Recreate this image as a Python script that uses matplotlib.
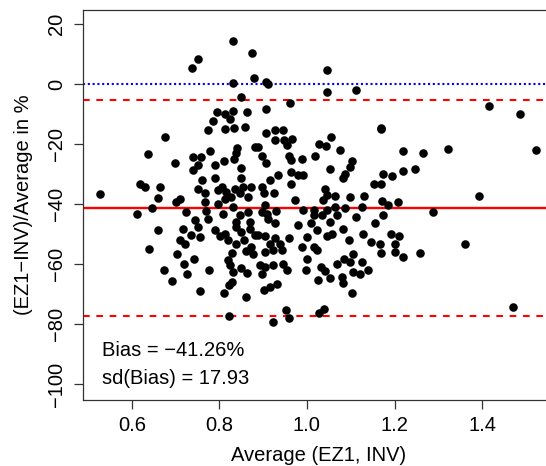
import matplotlib
matplotlib.use("Agg")
import matplotlib.pyplot as plt

avg = [0.528,
0.831,0.875,0.752,0.738,0.879,0.831,0.850,0.795,0.812,0.832,0.864,0.786,0.824,0.859,0.812,0.833,0.773,
1.045,0.906,0.912,1.046,1.113,0.961,0.907,1.169,1.415,1.487,
0.675,0.636,0.699,0.739,0.759,0.778,0.751,0.740,0.790,0.811,0.841,0.838,0.834,0.882,0.850,0.761,0.790,0.849,
0.618,0.630,0.665,0.751,0.805,0.797,0.816,0.835,0.854,0.873,0.847,0.767,0.660,0.710,0.702,0.812,0.827,0.866,
0.767,0.797,0.646,0.725,0.611,0.770,0.808,0.831,0.847,0.866,0.744,0.774,0.839,0.869,
0.907,0.927,0.946,0.926,0.948,0.967,0.955,1.169,1.055,1.028,1.044,1.076,0.888,1.018,0.898,0.906,0.960,0.963,
0.988,1.102,1.098,1.220,1.053,1.087,1.082,1.174,1.194,1.220,0.935,0.963,0.980,0.992,0.916,0.897,0.964,1.152,
1.169,0.903,0.924,1.041,1.045,1.064,1.037,0.973,1.098,1.131,1.171,1.184,1.207,0.904,0.897,0.908,0.929,0.992,
1.015,1.045,1.064,1.087,1.125,0.912,1.015,1.034,1.068,1.112,1.174,0.927,0.980,1.009,1.053,1.156,
1.266,1.321,1.523,1.247,1.392,1.287,
0.660,0.639,0.717,0.710,0.722,0.736,0.751,0.755,0.790,0.812,0.801,0.820,0.839,0.850,0.869,0.881,0.839,0.856,
0.873,0.862,0.877,0.829,0.703,0.742,0.820,0.824,0.719,0.727,0.674,0.776,0.831,0.850,0.864,0.692,0.829,0.821,
0.755,0.811,0.862,0.821,
1.083,0.889,0.904,0.927,0.939,0.958,0.916,0.904,0.923,0.942,0.988,1.000,1.022,1.015,1.022,1.045,1.057,1.095,
1.129,1.146,1.167,1.169,1.192,1.210,1.200,1.200,1.220,1.000,1.106,1.085,1.098,1.068,1.125,0.893,0.904,0.923,
0.946,0.954,0.897,0.997,1.032,1.041,1.053,1.026,1.081,1.083,1.106,1.121,1.140,0.931,0.916,0.903,1.102,0.952,
0.958,1.028,1.040,0.923,
1.258,1.362,1.471]

diff_pct = [-36.7,
14.4,10.4,8.3,5.3,1.9,0.2,-4.2,-9.2,-9.8,-8.9,-9.4,-12.2,-11.6,-14.2,-15.0,-14.6,-15.3,
4.7,0.6,-0.1,-2.6,-2.0,-6.2,-8.4,-14.6,-7.4,-10.0,
-17.6,-23.2,-26.3,-24.4,-24.4,-22.3,-26.8,-28.7,-27.0,-25.7,-21.4,-23.1,-25.1,-21.0,-27.8,-31.8,-31.2,-31.1,
-33.1,-34.4,-34.2,-34.8,-34.2,-35.3,-35.9,-34.8,-34.2,-34.2,-36.4,-36.4,-37.9,-38.1,-39.4,-38.1,-37.6,-37.6,
-39.2,-39.8,-41.1,-42.6,-43.4,-42.3,-43.1,-40.9,-43.7,-42.6,-45.3,-44.8,-45.9,-45.9,
-16.4,-15.3,-15.3,-18.7,-18.7,-18.3,-20.3,-14.8,-17.6,-20.1,-20.6,-22.0,-20.9,-23.9,-23.9,-26.2,-24.0,-25.3,
-25.1,-25.7,-27.6,-22.3,-28.4,-29.8,-31.4,-30.0,-30.6,-29.0,-30.1,-29.2,-30.3,-30.1,-32.0,-34.2,-33.4,-33.4,
-33.4,-36.4,-36.2,-34.8,-37.0,-37.2,-38.7,-38.7,-37.6,-37.2,-39.0,-40.3,-39.2,-40.3,-42.6,-43.1,-42.3,-42.0,
-42.0,-42.0,-40.9,-41.2,-40.9,-44.8,-43.7,-43.7,-43.7,-44.2,-43.7,-46.2,-46.8,-46.1,-45.9,-46.4,
-23.0,-21.7,-21.9,-28.2,-37.4,-42.7,
-48.7,-54.8,-48.3,-51.8,-53.3,-50.3,-47.6,-50.9,-48.7,-49.8,-50.6,-51.8,-47.6,-49.2,-48.1,-50.3,-53.1,-52.0,
-54.2,-55.6,-56.7,-56.2,-56.7,-58.2,-58.7,-60.3,-60.0,-63.1,-62.0,-62.0,-62.6,-61.1,-62.9,-65.6,-65.9,-67.0,
-68.9,-69.4,-70.9,-77.2,
-48.4,-50.3,-50.7,-51.4,-53.1,-51.1,-53.3,-55.9,-55.3,-55.1,-54.2,-50.9,-48.7,-54.2,-55.3,-50.7,-49.8,-52.0,
-50.0,-52.6,-53.1,-56.2,-50.0,-50.7,-53.1,-55.9,-57.6,-58.1,-56.4,-58.1,-59.2,-59.8,-59.2,-60.3,-60.9,-60.3,
-59.8,-62.0,-63.3,-61.8,-60.9,-62.2,-64.4,-65.3,-64.2,-66.2,-62.6,-63.1,-61.8,-66.7,-67.6,-68.7,-69.6,-75.3,
-77.8,-76.2,-74.8,-79.2,
-56.2,-53.1,-74.2]

bias = -41.26
sd_bias = 17.93
x_label = "Average (EZ1, INV)"
y_label = "(EZ1\u2212INV)/Average in %"
x_ticks = [0.6, 0.8, 1.0, 1.2, 1.4]
y_ticks = [20, 0, -20, -40, -60, -80, -100]

plt.rcParams['font.family'] = ['Liberation Sans', 'DejaVu Sans']
W, H = 546, 466
fig = plt.figure(figsize=(W/100, H/100), dpi=100)
left, right, top, bottom = 82.7, 553.5, 9.6, 399.5
ax = fig.add_axes([left/W, 1-bottom/H, (right-left)/W, (bottom-top)/H])

ax.axhline(0, color='#0000ff', lw=1.5, linestyle=(0, (1, 1.3)), zorder=1)
ax.axhline(bias + 2*sd_bias, color='#ff0000', lw=1.5, linestyle=(0, (3.2, 3.2)), zorder=1)
ax.axhline(bias - 2*sd_bias, color='#ff0000', lw=1.5, linestyle=(0, (3.2, 3.2)), zorder=1)
ax.axhline(bias, color='#ff0000', lw=1.7, zorder=1)
ax.scatter(avg, diff_pct, s=38, color='black', linewidths=0, zorder=3)

ax.set_xlim(0.488, 1.563)
ax.set_ylim(-105.0, 24.8)
ax.set_xticks(x_ticks)
ax.set_xticklabels([f"{t:.1f}" for t in x_ticks])
ax.set_yticks(y_ticks)
ax.set_yticklabels([str(t).replace('-', '\u2212') for t in y_ticks], rotation=90, va='center')
ax.tick_params(direction='out', length=6.5, width=0.9, labelsize=14.5, pad=5.5, color='#333333')
for s in ax.spines.values():
    s.set_linewidth(0.9)
    s.set_color('#333333')
ax.set_xlabel(x_label, fontsize=14.5, labelpad=7.5)
ax.set_ylabel(y_label, fontsize=14.5, labelpad=10)

ax.text(0.532, -88.7, f"Bias = {bias:.2f}%".replace('-', '\u2212'), fontsize=14.5, ha='left', va='center')
ax.text(0.532, -98.0, f"sd(Bias) = {sd_bias:.2f}", fontsize=14.5, ha='left', va='center')

fig.savefig("out.png", dpi=100)
